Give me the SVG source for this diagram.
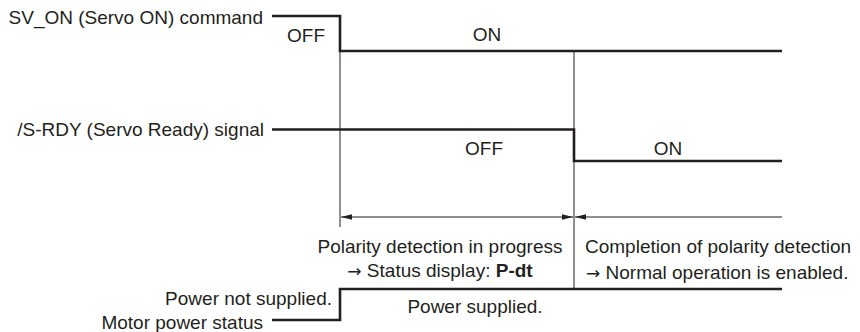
<svg xmlns="http://www.w3.org/2000/svg" width="860" height="332" viewBox="0 0 860 332">
<defs>
<style>
text{font-family:"Liberation Sans",Arial,sans-serif;font-size:19px;fill:#231f20}
.arr{font-family:"DejaVu Sans",sans-serif;font-size:17px}
.sig{fill:none;stroke:#231f20;stroke-width:2.6;stroke-linejoin:miter}
.thin{fill:none;stroke:#231f20;stroke-width:1}
.end{text-anchor:end}
.mid{text-anchor:middle}
</style>
<marker id="ah" markerUnits="userSpaceOnUse" markerWidth="12" markerHeight="8" refX="11" refY="4" orient="auto-start-reverse">
<path d="M0,1.3 L11,4 L0,6.7 Z" fill="#231f20"/>
</marker>
</defs>
<rect width="860" height="332" fill="#ffffff"/>
<g id="sv-on">
<text class="end" x="263" y="24">SV_ON (Servo ON) command</text>
<path class="sig" d="M272,16 H340 V51 H782"/>
<text class="end" x="325" y="42">OFF</text>
<text class="mid" x="487" y="41">ON</text>
</g>
<g id="s-rdy">
<text class="end" x="264" y="136">/S-RDY (Servo Ready) signal</text>
<path class="sig" d="M272,129.5 H574 V161 H782"/>
<text class="mid" x="484" y="155">OFF</text>
<text class="mid" x="668" y="155">ON</text>
</g>
<g id="motor-power">
<text class="end" x="332" y="305">Power not supplied.</text>
<text class="end" x="263" y="329">Motor power status</text>
<path class="sig" d="M272,320 H340 V289 H782"/>
<text class="mid" x="475" y="313">Power supplied.</text>
</g>
<g id="connectors">
<line class="thin" x1="340" y1="51" x2="340" y2="227"/>
<line class="thin" x1="574" y1="51" x2="574" y2="289"/>
<line class="thin" x1="341" y1="217" x2="573" y2="217" marker-start="url(#ah)" marker-end="url(#ah)"/>
<line class="thin" x1="575" y1="217" x2="782" y2="217" marker-start="url(#ah)"/>
</g>
<g id="polarity-detection">
<text class="mid" x="440" y="253">Polarity detection in progress</text>
<text class="mid" x="440" y="277"><tspan class="arr">→</tspan> Status display: <tspan font-weight="bold">P-dt</tspan></text>
</g>
<g id="completion">
<text x="585" y="253">Completion of polarity detection</text>
<text x="586" y="279"><tspan class="arr">→</tspan> Normal operation is enabled.</text>
</g>
</svg>
